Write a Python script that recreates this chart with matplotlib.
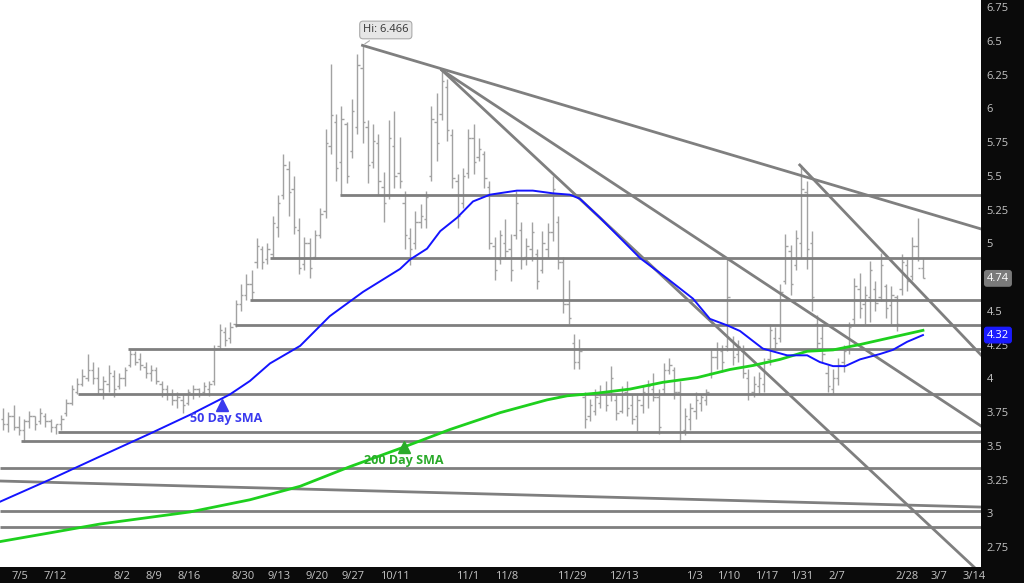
import matplotlib
matplotlib.use("Agg")
import matplotlib.pyplot as plt

plt.rcParams['font.family'] = ['Open Sans', 'DejaVu Sans']

# ---- daily OHLC bars ----
highs = [3.78, 3.75, 3.80, 3.72, 3.70, 3.76, 3.72, 3.78, 3.74, 3.70,
         3.66, 3.73, 3.85, 3.95, 4.00, 4.07, 4.18, 4.12, 4.08, 4.02,
         4.10, 4.06, 4.04, 4.08, 4.21, 4.20, 4.19, 4.12, 4.10, 4.08,
         3.98, 3.95, 3.92, 3.90, 3.88, 3.92, 3.95, 3.93, 3.97, 3.98,
         4.25, 4.40, 4.38, 4.42, 4.58, 4.70, 4.77, 4.80, 5.04, 4.98,
         5.00, 5.20, 5.36, 5.66, 5.61, 5.50, 5.19, 5.05, 5.04, 5.10,
         5.26, 5.85, 6.33, 5.96, 6.02, 5.90, 6.07, 6.40, 6.466, 5.91,
         5.88, 5.81, 5.53, 5.91, 5.98, 5.79, 5.39, 5.11, 5.24, 5.29,
         5.39, 6.02, 6.11, 6.29, 6.22, 5.85, 5.51, 5.56, 5.85, 5.88,
         5.78, 5.68, 5.46, 5.05, 5.10, 5.18, 5.07, 5.39, 5.16, 5.04,
         5.16, 4.96, 5.09, 5.15, 5.50, 5.20, 4.90, 4.73, 4.33, 4.29,
         3.90, 3.85, 3.92, 3.95, 3.98, 4.09, 3.88, 3.94, 3.98, 3.88,
         3.88, 3.95, 3.99, 4.04, 3.92, 4.11, 4.15, 4.08, 3.98, 3.78,
         3.82, 3.90, 3.88, 3.92, 4.22, 4.27, 4.25, 4.89, 4.31, 4.28,
         4.25, 4.07, 4.02, 4.05, 4.15, 4.40, 4.38, 4.70, 5.07, 4.99,
         5.10, 5.58, 5.46, 5.09, 4.47, 4.40, 4.10, 4.07, 4.15, 4.25,
         4.42, 4.74, 4.78, 4.68, 4.87, 4.72, 4.93, 4.70, 4.68, 4.62,
         4.92, 4.88, 5.05, 5.19, 4.89]
lows = [3.62, 3.60, 3.62, 3.58, 3.53, 3.63, 3.62, 3.66, 3.64, 3.60,
        3.59, 3.62, 3.72, 3.80, 3.88, 3.94, 3.98, 3.96, 3.88, 3.85,
        3.90, 3.86, 3.92, 3.94, 4.08, 4.10, 4.06, 4.00, 3.98, 3.96,
        3.86, 3.84, 3.80, 3.78, 3.74, 3.80, 3.85, 3.86, 3.88, 3.87,
        3.95, 4.22, 4.24, 4.26, 4.38, 4.50, 4.58, 4.57, 4.82, 4.81,
        4.85, 4.89, 5.05, 5.33, 5.20, 5.07, 4.77, 4.80, 4.74, 4.88,
        5.04, 5.19, 5.66, 5.46, 5.36, 5.45, 5.63, 5.81, 5.74, 5.45,
        5.56, 5.36, 5.16, 5.33, 5.41, 5.41, 4.96, 4.84, 4.96, 5.11,
        5.11, 5.46, 5.61, 5.91, 5.76, 5.41, 5.11, 5.26, 5.48, 5.51,
        5.61, 5.41, 4.96, 4.73, 4.85, 4.89, 4.72, 5.03, 4.81, 4.84,
        4.87, 4.66, 4.78, 4.89, 5.02, 4.81, 4.48, 4.40, 4.07, 4.07,
        3.63, 3.68, 3.73, 3.78, 3.76, 3.83, 3.69, 3.74, 3.72, 3.66,
        3.61, 3.74, 3.78, 3.83, 3.59, 3.88, 4.03, 3.85, 3.53, 3.58,
        3.62, 3.70, 3.76, 3.80, 4.00, 4.07, 4.05, 4.20, 4.10, 4.12,
        4.00, 3.84, 3.86, 3.88, 3.90, 4.10, 4.22, 4.27, 4.70, 4.62,
        4.80, 4.89, 4.81, 4.50, 4.20, 4.12, 3.90, 3.88, 3.95, 4.05,
        4.18, 4.40, 4.45, 4.40, 4.42, 4.50, 4.57, 4.45, 4.40, 4.35,
        4.62, 4.65, 4.73, 4.87, 4.74]
opens = [3.70, 3.66, 3.72, 3.64, 3.62, 3.68, 3.72, 3.68, 3.72, 3.68,
         3.64, 3.66, 3.74, 3.82, 3.90, 3.96, 4.00, 4.06, 4.00, 3.92,
         3.96, 4.02, 3.94, 4.00, 4.10, 4.18, 4.14, 4.08, 4.04, 4.06,
         3.96, 3.92, 3.88, 3.84, 3.84, 3.82, 3.88, 3.92, 3.90, 3.92,
         3.98, 4.24, 4.34, 4.30, 4.40, 4.55, 4.62, 4.70, 4.86, 4.96,
         4.88, 4.92, 5.12, 5.36, 5.55, 5.40, 5.10, 4.85, 5.00, 4.90,
         5.06, 5.24, 5.72, 5.90, 5.60, 5.88, 5.68, 5.86, 6.30, 5.86,
         5.60, 5.74, 5.42, 5.36, 5.72, 5.52, 5.30, 5.04, 5.00, 5.16,
         5.18, 5.50, 5.90, 5.96, 6.16, 5.80, 5.46, 5.30, 5.52, 5.78,
         5.64, 5.66, 5.42, 4.98, 4.88, 5.00, 4.96, 5.06, 5.10, 4.90,
         4.96, 4.92, 4.80, 4.96, 5.08, 5.16, 4.86, 4.55, 4.26, 4.12,
         3.86, 3.72, 3.76, 3.82, 3.90, 3.88, 3.84, 3.76, 3.90, 3.80,
         3.72, 3.80, 3.88, 3.92, 3.86, 3.92, 4.06, 4.06, 3.90, 3.62,
         3.70, 3.76, 3.82, 3.84, 4.04, 4.16, 4.20, 4.24, 4.28, 4.18,
         4.20, 4.00, 3.90, 3.94, 3.96, 4.14, 4.30, 4.30, 4.72, 4.94,
         4.84, 5.00, 5.38, 5.00, 4.40, 4.30, 4.04, 3.92, 4.00, 4.12,
         4.22, 4.44, 4.66, 4.55, 4.60, 4.66, 4.60, 4.68, 4.54, 4.60,
         4.66, 4.84, 4.76, 4.98, 4.82]
closes = [3.66, 3.72, 3.64, 3.62, 3.68, 3.72, 3.66, 3.74, 3.68, 3.64,
          3.66, 3.70, 3.82, 3.92, 3.96, 4.02, 4.06, 4.00, 3.92, 3.98,
          4.04, 3.92, 4.00, 4.06, 4.18, 4.12, 4.10, 4.04, 4.06, 3.98,
          3.92, 3.88, 3.84, 3.86, 3.80, 3.90, 3.92, 3.88, 3.94, 3.96,
          4.22, 4.36, 4.28, 4.38, 4.55, 4.62, 4.70, 4.64, 4.98, 4.86,
          4.96, 5.15, 5.30, 5.58, 5.38, 5.12, 4.82, 5.00, 4.82, 5.06,
          5.22, 5.74, 5.95, 5.56, 5.92, 5.50, 5.98, 6.32, 5.90, 5.58,
          5.76, 5.46, 5.30, 5.78, 5.50, 5.46, 5.06, 4.96, 5.16, 5.20,
          5.34, 5.92, 5.74, 6.20, 5.84, 5.48, 5.20, 5.50, 5.78, 5.60,
          5.70, 5.48, 5.00, 4.80, 5.06, 4.94, 4.80, 5.30, 4.88, 4.98,
          5.08, 4.72, 5.00, 5.08, 5.40, 4.86, 4.55, 4.45, 4.12, 4.20,
          3.70, 3.80, 3.86, 3.90, 3.80, 4.00, 3.74, 3.88, 3.78, 3.70,
          3.84, 3.90, 3.94, 3.86, 3.64, 4.06, 4.10, 3.90, 3.60, 3.72,
          3.78, 3.84, 3.86, 3.90, 4.16, 4.22, 4.12, 4.60, 4.16, 4.24,
          4.04, 3.88, 3.96, 4.00, 4.12, 4.36, 4.26, 4.64, 4.98, 4.70,
          5.04, 5.40, 4.96, 4.60, 4.26, 4.18, 3.94, 4.00, 4.10, 4.20,
          4.38, 4.68, 4.52, 4.62, 4.80, 4.56, 4.84, 4.52, 4.62, 4.40,
          4.86, 4.72, 4.98, 4.82, 4.74]

# ---- moving averages (sampled off the chart: bar index, price) ----
sma50_idx = [-0.6, 8.9, 18.3, 27.8, 35.4, 42.9, 46.7, 50.5, 56.2, 61.8,
             68.1, 75.1, 77.0, 80.2, 82.7, 85.9, 88.9, 92.1, 97.2, 100.2,
             104.0, 107.2, 109.1, 112.9, 116.7, 120.5, 125.6, 130.5, 133.7, 137.1,
             139.4, 143.7, 148.3, 152.1, 154.5, 157.0, 159.3, 162.1, 165.9, 168.3,
             171.0, 174.0]
sma50_val = [3.085, 3.25, 3.42, 3.59, 3.73, 3.88, 3.98, 4.11, 4.24, 4.46,
             4.64, 4.81, 4.88, 4.96, 5.09, 5.19, 5.31, 5.36, 5.39, 5.39,
             5.37, 5.36, 5.33, 5.19, 5.04, 4.89, 4.74, 4.59, 4.44, 4.39,
             4.35, 4.22, 4.17, 4.17, 4.12, 4.09, 4.09, 4.14, 4.18, 4.21,
             4.27, 4.32]
sma200_idx = [-0.6, 8.9, 18.3, 27.8, 35.4, 46.7, 56.2, 65.6, 75.1, 84.5,
              94.0, 102.9, 106.7, 112.4, 118.6, 124.8, 131.3, 137.5, 141.9, 147.0,
              152.1, 157.0, 162.1, 167.2, 174.0]
sma200_val = [2.79, 2.855, 2.92, 2.97, 3.01, 3.10, 3.20, 3.345, 3.48, 3.62,
              3.745, 3.84, 3.87, 3.89, 3.92, 3.97, 4.005, 4.065, 4.095, 4.14,
              4.20, 4.21, 4.25, 4.295, 4.355]

# ---- support / resistance lines ----
level_start = [63.7, 50.5, 46.7, 43.9, 23.6, 14.2, 10.4, 3.4, -0.6, -0.6, -0.6]
level_price = [5.357, 4.891, 4.580, 4.394, 4.217, 3.883, 3.602, 3.535, 3.335, 3.017, 2.898]

# trend lines: (x0, p0, x1, p1)
trend_lines = [
    (68.0, 6.466, 185.0, 5.106),
    (83.0, 6.283, 185.0, 3.646),
    (83.0, 6.283, 183.7, 2.600),
    (150.7, 5.580, 185.0, 4.172),
    (-0.6, 3.239, 185.0, 3.046),
]

date_labels = ["7/5", "7/12", "8/2", "8/9", "8/16", "8/30", "9/13", "9/20", "9/27",
               "10/11", "11/1", "11/8", "11/29", "12/13", "1/3", "1/10", "1/17",
               "1/31", "2/7", "2/28", "3/7", "3/14"]
date_pos = [3.2, 9.8, 22.5, 28.6, 35.2, 45.4, 52.2, 59.4, 66.3, 74.1, 87.9, 95.3,
            107.5, 117.5, 130.7, 137.3, 144.5, 151.1, 157.7, 171.0, 177.1, 183.7]

price_ticks = [6.75, 6.5, 6.25, 6, 5.75, 5.5, 5.25, 5, 4.5, 4.25, 4, 3.75, 3.5, 3.25, 3, 2.75]
last_price = 4.74
last_sma50 = 4.32
hi_price = 6.466
hi_idx = 68

# ---- figure ----
fig = plt.figure(figsize=(10.24, 5.83), dpi=100, facecolor="#0a0a0a")
ax = fig.add_axes([0, 16 / 583, 981 / 1024, 567 / 583])
ax.set_facecolor("white")
ax.set_xlim(-0.57, 184.98)
ax.set_ylim(2.602, 6.802)

bar_col = "#a2a2a2"
x = list(range(len(highs)))
ax.vlines(x, lows, highs, color=bar_col, lw=1.0, zorder=2)
ax.hlines(opens, [i - 0.45 for i in x], x, color=bar_col, lw=1.0, zorder=2)
ax.hlines(closes, x, [i + 0.45 for i in x], color=bar_col, lw=1.0, zorder=2)

line_col = "#7f7f7f"
for s, p in zip(level_start, level_price):
    ax.plot([s, 185.5], [p, p], color=line_col, lw=2, zorder=3, solid_capstyle="butt")
for x0, p0, x1, p1 in trend_lines:
    ax.plot([x0, x1], [p0, p1], color=line_col, lw=2, zorder=3)

ax.plot(sma200_idx, sma200_val, color="#1ed01e", lw=2.0, zorder=4)
ax.plot(sma50_idx, sma50_val, color="#1414ff", lw=1.4, zorder=4)

# annotations
ax.text(42.2, 3.70, "50 Day SMA", color="#3a3aee", fontsize=9, fontweight="bold",
        ha="center", va="center", zorder=5)
ax.plot([41.4], [3.80], marker="^", ms=8, color="#3a3aee", zorder=5)
ax.text(75.8, 3.39, "200 Day SMA", color="#2aaa2a", fontsize=9, fontweight="bold",
        ha="center", va="center", zorder=5)
ax.plot([75.8], [3.49], marker="^", ms=8, color="#2aaa2a", zorder=5)

ax.annotate(f"Hi: {hi_price}", xy=(hi_idx, hi_price), xytext=(72.4, 6.58),
            fontsize=8, color="#333333", ha="center", va="center",
            bbox=dict(boxstyle="round,pad=0.3", fc="#e6e6e6", ec="#aaaaaa", lw=0.8),
            arrowprops=dict(arrowstyle="-", color="#aaaaaa", lw=0.8), zorder=6)

# axes styling
for sp in ax.spines.values():
    sp.set_visible(False)
ax.yaxis.tick_right()
ax.set_yticks(price_ticks)
ax.set_yticklabels([f"{t:g}" for t in price_ticks])
ax.tick_params(axis="y", length=0, pad=4, labelsize=8, labelcolor="#c4c4c4")
ax.set_xticks(date_pos)
ax.set_xticklabels(date_labels)
ax.tick_params(axis="x", length=0, pad=3, labelsize=8, labelcolor="#c4c4c4")

tr = ax.get_yaxis_transform()
ax.text(1.006, last_price, f"{last_price:.2f}", transform=tr, fontsize=8, color="white",
        ha="left", va="center", clip_on=False, zorder=7,
        bbox=dict(boxstyle="round,pad=0.2", fc="#7a7a7a", ec="#7a7a7a"))
ax.text(1.006, last_sma50, f"{last_sma50:.2f}", transform=tr, fontsize=8, color="white",
        ha="left", va="center", clip_on=False, zorder=7,
        bbox=dict(boxstyle="round,pad=0.2", fc="#1a1aff", ec="#1a1aff"))

fig.savefig("out.png", dpi=100, facecolor=fig.get_facecolor())
